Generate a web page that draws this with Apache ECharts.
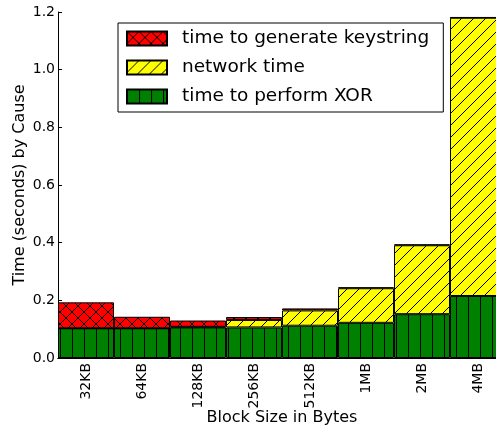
<!DOCTYPE html>
<html>
<head>
<meta charset="utf-8">
<script src="https://cdn.jsdelivr.net/npm/echarts@6/dist/echarts.min.js"></script>
<style>
  html, body { margin: 0; padding: 0; background: #fff; }
  #main { width: 496px; height: 428px; }
</style>
</head>
<body>
<div id="main"></div>
<script>
var categories = ['32KB', '64KB', '128KB', '256KB', '512KB', '1MB', '2MB', '4MB'];
var xorTime = [0.103, 0.103, 0.106, 0.106, 0.112, 0.122, 0.152, 0.215];
var networkTime = [0, 0, 0.002, 0.026, 0.053, 0.120, 0.239, 0.965];
var keystringTime = [0.090, 0.040, 0.022, 0.010, 0.007, 0.003, 0.003, 0.002];
var yTicks = [0, 0.2, 0.4, 0.6, 0.8, 1.0, 1.2];

// hatch tiles, like matplotlib's 'xx', '//' and '|'
function hatch(bg, kind) {
  var s = 12;
  var c = document.createElement('canvas');
  c.width = s; c.height = s;
  var g = c.getContext('2d');
  g.fillStyle = bg;
  g.fillRect(0, 0, s, s);
  g.strokeStyle = '#000';
  g.lineWidth = 1;
  g.beginPath();
  if (kind === '|') {
    g.moveTo(0.5, 0); g.lineTo(0.5, s);
  }
  if (kind === '/' || kind === 'x') {
    g.moveTo(-1, s + 1); g.lineTo(s + 1, -1);
    g.moveTo(-1, 1); g.lineTo(1, -1);
    g.moveTo(s - 1, s + 1); g.lineTo(s + 1, s - 1);
  }
  if (kind === 'x') {
    g.moveTo(-1, -1); g.lineTo(s + 1, s + 1);
    g.moveTo(s - 1, -1); g.lineTo(s + 1, 1);
    g.moveTo(-1, s - 1); g.lineTo(1, s + 1);
  }
  g.stroke();
  return { image: c, repeat: 'repeat' };
}

var chart = echarts.init(document.getElementById('main'));
var font = 'DejaVu Sans';

function barSeries(name, data, fill) {
  return {
    name: name,
    type: 'bar',
    stack: 'total',
    barWidth: '100%',
    barGap: '0%',
    barCategoryGap: '0%',
    data: data,
    itemStyle: { color: fill, borderColor: '#000', borderWidth: 1 },
    emphasis: { disabled: true }
  };
}

var option = {
  animation: false,
  textStyle: { fontFamily: font },
  grid: { left: 58, right: -10, top: 12, bottom: 70, outerBoundsMode: 'none' },
  legend: {
    orient: 'vertical',
    left: 118,
    top: 23,
    padding: [6, 14, 6, 8],
    icon: 'rect',
    itemWidth: 40,
    itemHeight: 14,
    itemGap: 10,
    borderColor: '#000',
    borderWidth: 1,
    borderRadius: 0,
    backgroundColor: '#fff',
    textStyle: { fontSize: 18.5, color: '#000', fontFamily: font, padding: [0, 0, 0, 10] },
    data: ['time to generate keystring', 'network time', 'time to perform XOR']
  },
  xAxis: [{
    type: 'category',
    data: categories,
    name: 'Block Size in Bytes',
    nameLocation: 'middle',
    nameGap: 52,
    nameMoveOverlap: false,
    nameTextStyle: { fontSize: 16, color: '#000' },
    axisLine: { lineStyle: { color: '#000' } },
    axisTick: { inside: true, alignWithLabel: true, length: 4, lineStyle: { color: '#000' } },
    axisLabel: { rotate: 90, fontSize: 14, color: '#000', margin: 5 }
  }, {
    type: 'category',
    data: categories,
    position: 'top',
    axisLine: { lineStyle: { color: '#000' } },
    axisTick: { inside: true, alignWithLabel: true, length: 4, lineStyle: { color: '#000' } },
    axisLabel: { show: false }
  }],
  yAxis: [{
    type: 'value',
    min: 0,
    max: 1.2,
    interval: 0.2,
    name: 'Time (seconds) by Cause',
    nameLocation: 'middle',
    nameGap: 30,
    nameMoveOverlap: false,
    nameTextStyle: { fontSize: 16, color: '#000' },
    axisLine: { show: true, lineStyle: { color: '#000' } },
    axisTick: { show: true, inside: true, length: 4, lineStyle: { color: '#000' } },
    axisLabel: {
      fontSize: 14, color: '#000', margin: 3,
      customValues: yTicks,
      formatter: function (v) { return v.toFixed(1); }
    },
    splitLine: { show: false }
  }, {
    type: 'value',
    min: 0,
    max: 1.2,
    interval: 0.2,
    position: 'right',
    axisLine: { show: true, lineStyle: { color: '#000' } },
    axisTick: { show: true, inside: true, length: 4 },
    axisLabel: { show: false },
    splitLine: { show: false }
  }],
  series: [
    barSeries('time to perform XOR', xorTime, hatch('#008000', '|')),
    barSeries('network time', networkTime, hatch('#ffff00', '/')),
    barSeries('time to generate keystring', keystringTime, hatch('#ff0000', 'x'))
  ]
};

chart.setOption(option);
</script>
</body>
</html>
